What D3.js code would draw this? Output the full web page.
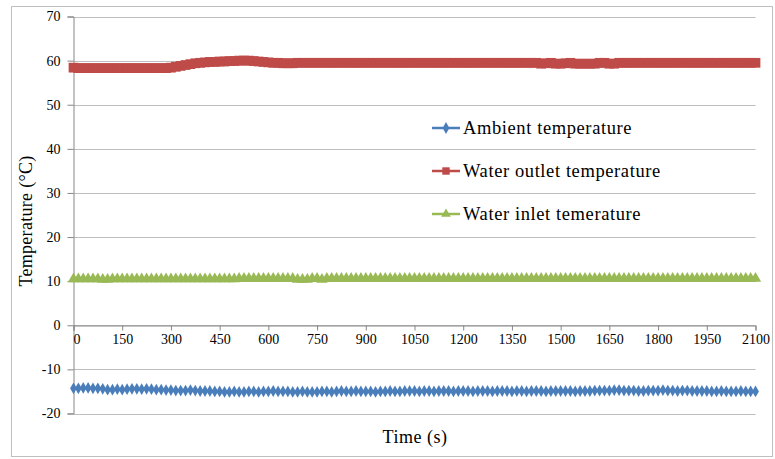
<!DOCTYPE html>
<html><head><meta charset="utf-8">
<script src="https://cdn.jsdelivr.net/npm/d3@7"></script>
<style>body{margin:0;background:#fff;} svg{display:block;} text{font-family:"Liberation Serif","Times New Roman",Tinos,"DejaVu Serif",serif !important;}</style>
</head><body><svg id="c" width="775" height="459"></svg>
<script>
const xTicks = [0,150,300,450,600,750,900,1050,1200,1350,1500,1650,1800,1950,2100];
const yTicks = [-20,-10,0,10,20,30,40,50,60,70];
const seriesNames = ["Ambient temperature","Water outlet temperature","Water inlet temerature"];
const seriesColors = ["#4a7ebb","#be4b48","#98b954"];
const time = d3.range(0, 2101, 15);
const ambient = [
-14.3,-14.3,-14.2,-14.2,-14.3,-14.3,-14.4,-14.6,-14.6,-14.5,
-14.6,-14.5,-14.4,-14.4,-14.5,-14.4,-14.5,-14.6,-14.6,-14.7,
-14.7,-14.8,-14.8,-14.8,-14.7,-14.8,-14.9,-14.9,-14.9,-15.0,
-15.0,-15.1,-15.1,-15.0,-15.1,-15.1,-15.0,-15.0,-15.1,-15.0,
-15.0,-14.9,-15.0,-15.0,-15.0,-15.1,-15.1,-15.0,-15.1,-15.1,
-15.1,-15.0,-15.0,-15.1,-15.0,-14.9,-15.0,-15.0,-14.9,-15.0,
-15.0,-15.0,-15.1,-15.0,-15.0,-14.9,-15.0,-15.0,-14.9,-14.9,
-14.9,-15.0,-14.9,-14.9,-15.0,-14.9,-14.9,-14.9,-15.0,-14.9,
-14.9,-14.9,-15.0,-14.9,-14.9,-14.9,-15.0,-14.9,-14.9,-14.9,
-15.0,-14.9,-14.9,-15.0,-14.9,-14.9,-14.9,-15.0,-14.9,-14.9,
-14.9,-14.9,-14.9,-15.0,-14.9,-14.9,-14.9,-14.8,-14.8,-14.8,
-14.8,-14.7,-14.7,-14.8,-14.8,-14.8,-14.9,-14.9,-14.8,-14.8,
-14.8,-14.7,-14.8,-14.8,-14.9,-14.8,-14.8,-14.9,-14.9,-14.9,
-14.9,-15.0,-15.0,-14.9,-15.0,-15.0,-15.0,-14.9,-15.0,-15.0,
-15.0];
const outlet = [
58.4,58.3,58.3,58.3,58.3,58.3,58.3,58.3,58.3,58.3,
58.3,58.3,58.3,58.3,58.3,58.3,58.3,58.3,58.3,58.3,
58.4,58.6,58.8,59.0,59.2,59.4,59.5,59.6,59.7,59.7,
59.8,59.8,59.9,59.9,60.0,60.0,60.0,59.9,59.8,59.7,
59.6,59.5,59.5,59.4,59.4,59.4,59.5,59.5,59.5,59.5,
59.5,59.5,59.5,59.5,59.5,59.5,59.5,59.5,59.5,59.5,
59.5,59.5,59.5,59.5,59.5,59.5,59.5,59.5,59.5,59.5,
59.5,59.5,59.5,59.5,59.5,59.5,59.5,59.5,59.5,59.5,
59.5,59.5,59.5,59.5,59.5,59.5,59.5,59.5,59.5,59.5,
59.5,59.5,59.5,59.5,59.5,59.5,59.3,59.4,59.5,59.3,
59.3,59.4,59.5,59.3,59.3,59.3,59.3,59.3,59.5,59.5,
59.3,59.3,59.5,59.5,59.5,59.5,59.5,59.5,59.5,59.5,
59.5,59.5,59.5,59.5,59.5,59.5,59.5,59.5,59.5,59.5,
59.5,59.5,59.5,59.5,59.5,59.5,59.5,59.5,59.5,59.5,
59.5];
const inlet = [
10.5,10.5,10.5,10.5,10.5,10.5,10.4,10.4,10.5,10.5,
10.5,10.5,10.5,10.5,10.5,10.5,10.5,10.5,10.5,10.5,
10.5,10.5,10.5,10.5,10.5,10.5,10.5,10.5,10.5,10.5,
10.5,10.5,10.5,10.5,10.6,10.6,10.6,10.6,10.6,10.6,
10.6,10.6,10.6,10.6,10.6,10.6,10.4,10.4,10.4,10.6,
10.6,10.4,10.6,10.6,10.6,10.6,10.6,10.6,10.6,10.6,
10.6,10.6,10.6,10.6,10.6,10.6,10.6,10.6,10.6,10.6,
10.6,10.6,10.6,10.6,10.6,10.6,10.6,10.6,10.6,10.6,
10.6,10.6,10.6,10.6,10.6,10.6,10.6,10.6,10.6,10.6,
10.6,10.6,10.6,10.6,10.6,10.6,10.6,10.6,10.6,10.6,
10.6,10.6,10.6,10.6,10.6,10.6,10.6,10.6,10.6,10.6,
10.6,10.6,10.6,10.6,10.6,10.6,10.6,10.6,10.6,10.6,
10.6,10.6,10.6,10.6,10.6,10.6,10.6,10.6,10.6,10.6,
10.6,10.6,10.6,10.6,10.6,10.6,10.6,10.6,10.6,10.6,
10.6];

const FONT = '"Liberation Serif","Times New Roman",Tinos,"DejaVu Serif",serif';
const svg = d3.select("#c");
// outer frame
svg.append("rect").attr("x",11.5).attr("y",6.5).attr("width",761).attr("height",450)
  .attr("fill","none").attr("stroke","#bfbfbf").attr("stroke-width",1);

const x = d3.scaleLinear().domain([0,2100]).range([73.5,755.5]);
const y = d3.scaleLinear().domain([-20,70]).range([413.5,16.5]);
const fmt = d => String(d);

// gridlines
svg.append("g").selectAll("line").data(yTicks).join("line")
  .attr("x1",x(0)).attr("x2",x(2100)).attr("y1",d=>Math.round(y(d))+0.5).attr("y2",d=>Math.round(y(d))+0.5)
  .attr("stroke","#bfbfbf").attr("stroke-width",1);

// y axis
const yAxis = d3.axisLeft(y).tickValues(yTicks).tickSize(6).tickPadding(7).tickFormat(fmt);
const gy = svg.append("g").attr("transform",`translate(${x(0)},0)`).call(yAxis).attr("font-family",FONT);
gy.select(".domain").attr("stroke","#868686");
gy.selectAll(".tick line").attr("stroke","#868686");
gy.selectAll("text").attr("font-size",14).attr("fill","#000");

// x axis at y=0
const xAxis = d3.axisBottom(x).tickValues(xTicks).tickSize(5).tickPadding(4).tickFormat(fmt);
const gx = svg.append("g").attr("transform",`translate(0,${Math.round(y(0))+0.5})`).call(xAxis).attr("font-family",FONT);
gx.select(".domain").attr("stroke","#868686");
gx.selectAll(".tick line").attr("stroke","#868686");
gx.selectAll("text").attr("font-size",14).attr("fill","#000");
gx.selectAll(".tick").filter(d=>d===0).select("text").attr("dx",3);

// series
const sym = [d3.symbolDiamond, d3.symbolSquare, d3.symbolTriangle];
const symSize = [40, 95, 55];
const lw = [2.5, 4, 2.5];
const all = [ambient, outlet, inlet];
all.forEach((vals,i)=>{
  const data = time.map((t,j)=>({t, v: vals[j]}));
  const g = svg.append("g");
  g.append("path").datum(data).attr("fill","none").attr("stroke",seriesColors[i]).attr("stroke-width",lw[i])
    .attr("d", d3.line().x(d=>x(d.t)).y(d=>y(d.v)));
  g.selectAll("path.m").data(data).join("path").attr("class","m")
    .attr("transform",d=>`translate(${x(d.t)},${y(d.v)})`)
    .attr("d", d3.symbol().type(sym[i]).size(symSize[i]))
    .attr("fill",seriesColors[i]);
});

// legend
const lg = svg.append("g");
const ly = [128, 171, 214];
seriesNames.forEach((n,i)=>{
  lg.append("line").attr("x1",432).attr("x2",460).attr("y1",ly[i]).attr("y2",ly[i])
    .attr("stroke",seriesColors[i]).attr("stroke-width",2.5);
  lg.append("path").attr("transform",`translate(446,${ly[i]})`)
    .attr("d", d3.symbol().type(sym[i]).size(i===1?55:40)).attr("fill",seriesColors[i]);
  lg.append("text").attr("x",463).attr("y",ly[i]+6).attr("font-size",18.5).attr("letter-spacing",0.6)
    .attr("font-family",FONT).attr("fill","#000").text(n);
});

// axis titles
svg.append("text").attr("transform",`translate(32,221) rotate(-90)`).attr("text-anchor","middle")
  .attr("font-size",18).attr("letter-spacing",0.3).attr("font-family",FONT).attr("fill","#000").text("Temperature (°C)");
svg.append("text").attr("x",415).attr("y",443).attr("text-anchor","middle")
  .attr("font-size",18).attr("letter-spacing",0.5).attr("font-family",FONT).attr("fill","#000").text("Time (s)");
</script></body></html>
